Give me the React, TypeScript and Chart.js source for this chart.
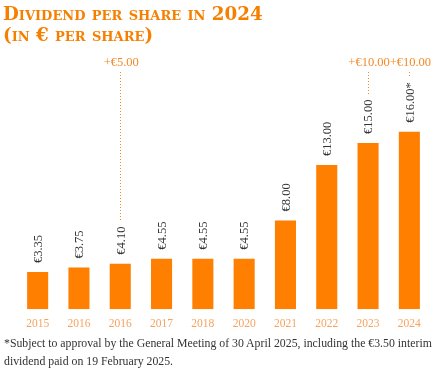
import React, { useEffect, useRef } from "react";
import { Chart, registerables } from "chart.js";

Chart.register(...registerables);

const categories = ["2015", "2016", "2016", "2017", "2018", "2020", "2021", "2022", "2023", "2024"];
const dividends = [3.35, 3.75, 4.1, 4.55, 4.55, 4.55, 8.0, 13.0, 15.0, 16.0];
const valueLabels = ["€3.35", "€3.75", "€4.10", "€4.55", "€4.55", "€4.55", "€8.00", "€13.00", "€15.00", "€16.00*"];
const extraLabels = ["", "", "+€5.00", "", "", "", "", "", "+€10.00", "+€10.00"];

const titleLines = ["Dividend per share in 2024", "(in € per share)"];
const footnote =
  "*Subject to approval by the General Meeting of 30 April 2025, including the €3.50 interim dividend paid on 19 February 2025.";

const ORANGE = "#ff7f00";
const TICK_ORANGE = "#f8a25e";
const SERIF = "'Liberation Serif', 'DejaVu Serif', serif";

const labelPlugin = {
  id: "valueLabels",
  afterDatasetsDraw(chart: any) {
    const ctx = chart.ctx;
    const meta = chart.getDatasetMeta(0);
    ctx.save();
    meta.data.forEach((bar: any, i: number) => {
      const x = bar.x;
      const y = bar.y;
      ctx.font = `12.5px ${SERIF}`;
      ctx.fillStyle = "#333333";
      const text = valueLabels[i];
      const w = ctx.measureText(text).width;
      ctx.save();
      ctx.translate(x + 1, y - 9);
      ctx.rotate(-Math.PI / 2);
      ctx.textAlign = "left";
      ctx.textBaseline = "middle";
      ctx.fillText(text, 0, 0);
      ctx.restore();
      const extra = extraLabels[i];
      if (extra) {
        const labelTop = y - 9 - w;
        ctx.font = `12.5px ${SERIF}`;
        ctx.fillStyle = "#f4892a";
        ctx.textAlign = "center";
        ctx.textBaseline = "middle";
        ctx.fillText(extra, x + 1, 63);
        ctx.beginPath();
        ctx.setLineDash([1, 2]);
        ctx.strokeStyle = "#f4892a";
        ctx.lineWidth = 1;
        ctx.moveTo(Math.round(x) + 0.5, 72);
        ctx.lineTo(Math.round(x) + 0.5, labelTop - 5);
        ctx.stroke();
        ctx.setLineDash([]);
      }
    });
    ctx.restore();
  },
};

export default function App() {
  const ref = useRef<HTMLCanvasElement>(null);
  useEffect(() => {
    if (!ref.current) return;
    const chart = new Chart(ref.current, {
      type: "bar",
      data: {
        labels: categories,
        datasets: [
          {
            data: dividends,
            backgroundColor: ORANGE,
            borderWidth: 0,
            categoryPercentage: 1,
            barPercentage: 0.51,
          },
        ],
      },
      options: {
        animation: false,
        responsive: false,
        maintainAspectRatio: false,
        layout: { padding: { left: 17, right: 17, top: 32, bottom: 37 } },
        plugins: { legend: { display: false }, tooltip: { enabled: false } },
        scales: {
          x: {
            grid: { display: false, drawTicks: false },
            border: { display: false },
            ticks: {
              color: TICK_ORANGE,
              font: { family: SERIF, size: 11.5 },
              padding: 8,
              maxRotation: 0,
              autoSkip: false,
            },
          },
          y: { display: false, min: 0, max: 25 },
        },
      },
      plugins: [labelPlugin],
    });
    return () => chart.destroy();
  }, []);

  return (
    <div style={{ position: "absolute", left: 0, top: 0, width: 447, height: 376, background: "#fff", overflow: "hidden" }}>
      <canvas ref={ref} width={447} height={376} style={{ position: "absolute", left: 0, top: 0 }} />
      <div
        style={{
          position: "absolute",
          left: 3,
          top: 3,
          color: "#f77f00",
          fontFamily: "'DejaVu Serif', serif",
          fontWeight: "bold",
          fontVariant: "small-caps",
          fontSize: 18.3,
          lineHeight: "21px",
        }}
      >
        {titleLines.map((t, i) => (
          <div key={i}>{t}</div>
        ))}
      </div>
      <div
        style={{
          position: "absolute",
          left: 4,
          top: 334,
          width: 440,
          color: "#333",
          fontFamily: SERIF,
          fontSize: 11.8,
          lineHeight: "18px",
        }}
      >
        {footnote}
      </div>
    </div>
  );
}
